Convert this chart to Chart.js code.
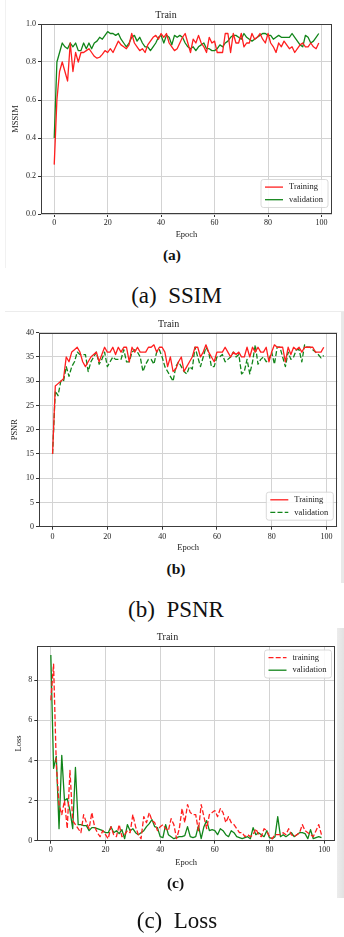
<!DOCTYPE html>
<html><head><meta charset="utf-8">
<script src="https://cdn.jsdelivr.net/npm/chart.js@4.4.1/dist/chart.umd.min.js"></script>
<style>
html,body{margin:0;padding:0;background:#fff;}
body{width:344px;height:937px;position:relative;overflow:hidden;font-family:'Liberation Serif','Times New Roman',serif;color:#111;}
canvas{position:absolute;left:0;}
.cap{position:absolute;text-align:center;white-space:nowrap;}
.sub{font-weight:bold;font-size:15.5px;line-height:15.5px;}
.big{font-size:23px;line-height:23px;}
.gap{display:inline-block;width:0.5em;}
.deco{position:absolute;}
</style></head><body>
<div class="deco" style="left:5px;top:0;width:1px;height:268px;background:#f1f1f1"></div>
<div class="deco" style="left:5px;top:311px;width:339px;height:1px;background:#ececec"></div>
<div class="deco" style="left:341px;top:312px;width:3px;height:271px;background:#e9e9e9"></div>
<div class="deco" style="left:337px;top:628px;width:7px;height:270px;background:linear-gradient(to right,#ececec,#e2e2e2)"></div>

<canvas id="c1" width="344" height="244" style="top:0px"></canvas>
<canvas id="c2" width="344" height="248" style="top:310px"></canvas>
<canvas id="c3" width="344" height="250" style="top:625px"></canvas>

<div class="cap sub" style="left:0;width:344px;top:247px">(a)</div>
<div class="cap big" style="left:0;width:353px;top:284px">(a)<span class="gap"></span>SSIM</div>
<div class="cap sub" style="left:0;width:352px;top:561px">(b)</div>
<div class="cap big" style="left:0;width:352px;top:598px">(b)<span class="gap"></span>PSNR</div>
<div class="cap sub" style="left:0;width:351px;top:875px">(c)</div>
<div class="cap big" style="left:0;width:354px;top:909px">(c)<span class="gap"></span>Loss</div>

<script>
// ---------------- data ----------------
const epochs = Array.from({length: 100}, (_, i) => i);
const xTicks = [0, 20, 40, 60, 80, 100];

const ssimTraining = [
0.26,0.60,0.75,0.80,0.75,0.70,0.90,0.75,0.85,0.80,
0.85,0.85,0.86,0.87,0.85,0.83,0.82,0.825,0.84,0.86,
0.85,0.87,0.85,0.88,0.91,0.89,0.88,0.87,0.89,0.95,
0.90,0.88,0.86,0.87,0.85,0.89,0.91,0.93,0.94,0.92,
0.95,0.93,0.95,0.90,0.88,0.86,0.87,0.90,0.93,0.95,
0.90,0.85,0.92,0.90,0.94,0.90,0.88,0.85,0.93,0.90,
0.91,0.85,0.85,0.85,0.95,0.95,0.85,0.95,0.90,0.90,
0.95,0.88,0.90,0.90,0.95,0.92,0.93,0.95,0.92,0.90,
0.95,0.90,0.88,0.85,0.90,0.88,0.91,0.89,0.87,0.88,
0.85,0.87,0.89,0.90,0.88,0.88,0.90,0.88,0.87,0.90];
const ssimValidation = [
0.40,0.80,0.85,0.90,0.88,0.87,0.90,0.88,0.90,0.86,
0.86,0.90,0.87,0.90,0.87,0.90,0.91,0.93,0.92,0.94,
0.96,0.95,0.95,0.94,0.95,0.92,0.90,0.88,0.90,0.93,
0.94,0.91,0.93,0.90,0.88,0.88,0.86,0.88,0.90,0.93,
0.94,0.90,0.94,0.93,0.89,0.94,0.93,0.94,0.93,0.90,
0.88,0.87,0.88,0.86,0.88,0.89,0.90,0.87,0.87,0.86,
0.86,0.87,0.89,0.88,0.90,0.91,0.93,0.94,0.94,0.93,
0.92,0.95,0.93,0.92,0.91,0.92,0.93,0.94,0.95,0.95,
0.94,0.94,0.92,0.93,0.94,0.93,0.93,0.93,0.93,0.95,
0.93,0.91,0.89,0.88,0.94,0.93,0.90,0.91,0.93,0.95];
const ssimTicks = [0.0, 0.2, 0.4, 0.6, 0.8, 1.0];

const psnrTraining = [
15,29,29.5,30,30.5,35,34,36,36.5,37,
36,34,33,34,35,35.5,36,34,35.5,37,
36,36,37,35.5,37,36,37,37,34,37,
36,37,36,36,36,37,37,37.5,36,37,
37,36,33,35,32,32.5,34,35,32,33,
34,35,37,37,35,36,37.5,36,35,34,
36,36,36,37,36,35,36,35.5,36,35,
35,37,35,37,36,37,36,36,37,34,
36,37.5,37,37,37,34,37,35.5,37,36.5,
37,36,37,37,37,37,36,36,36,37];
const psnrValidation = [
15,28,27,30,30,33,31,33,34,36,
35.5,35.5,35.5,32,34,35,36,33.5,34.5,36,
33,34,35,34.5,34.5,34.5,36.5,34,34,36,
36.5,36,35,32,33.5,34.5,34.5,33.5,36,36.5,
35,33,32,31,30,33,34,33,32,31.5,
33,32.5,37,35,33,35,37,36,33,33,
35,35,35.5,34,34.5,35,36,35,35.5,31.5,
32,34.5,31.5,34,37.5,33.5,34.5,35,34,34.5,
36,33.5,37,37,35,33,36,34.5,35,36.5,
36.5,34,37.5,37,37,36.5,36,35.5,34.8,35.3];
const psnrTicks = [0, 5, 10, 15, 20, 25, 30, 35, 40];

const lossTraining = [
7.0,8.8,3.8,1.8,1.3,2.0,0.6,3.5,1.0,0.8,
0.6,0.4,1.3,0.9,0.6,1.4,0.7,0.4,0.2,0.5,
0.3,0.1,0.7,0.3,0.2,0.8,0.2,0.3,0.5,0.4,
1.3,0.7,0.3,0.1,1.2,0.9,1.4,1.0,0.9,0.5,
0.7,0.8,0.6,0.5,1.1,0.8,0.1,0.6,1.6,0.9,
1.8,1.4,1.3,1.3,0.5,1.8,1.2,0.6,1.3,1.4,
1.5,1.2,1.6,1.4,0.9,1.2,0.9,0.8,0.6,0.4,
0.4,0.2,0.3,0.2,0.3,0.6,0.3,0.2,0.6,0.5,
0.2,0.1,0.3,0.3,0.3,0.4,0.3,0.6,0.3,0.2,
0.3,0.4,0.8,0.5,0.4,0.3,0.2,0.5,0.8,0.3];
const lossValidation = [
9.25,3.6,4.2,0.6,4.25,2.0,2.1,1.5,0.6,3.65,
0.8,0.8,0.75,0.75,0.5,0.65,0.65,0.6,0.55,0.5,
0.4,0.4,0.7,0.4,0.5,0.35,0.55,0.1,0.8,0.5,
0.6,0.4,0.3,0.4,0.5,0.7,0.85,1.05,0.7,0.65,
0.2,0.15,0.8,0.3,0.2,0.1,0.15,0.2,0.2,0.25,
0.7,0.2,0.15,0.2,0.75,0.1,0.7,1.0,0.5,0.55,
0.5,0.3,0.6,0.5,0.3,0.2,0.5,0.4,0.2,0.15,
0.1,0.15,0.2,0.1,0.65,0.3,0.4,0.3,0.2,0.5,
0.15,0.1,0.2,1.2,0.2,0.3,0.2,0.3,0.4,0.2,
0.3,0.4,0.4,0.35,0.1,0.55,0.1,0.15,0.2,0.15];
const lossTicks = [0, 2, 4, 6, 8];

// ---------------- style ----------------
const FONT = "'Liberation Serif', 'Times New Roman', serif";
const TEXT = '#222';
const RED = '#ff1f1f';
const GREEN = '#12851a';
const GRID = '#d3d3d3';

const frameLegend = {
  id: 'frameLegend',
  afterDatasetsDraw(chart, args, opts) {
    const ctx = chart.ctx, a = chart.chartArea;
    ctx.save();
    // spines
    ctx.strokeStyle = '#3c3c3c';
    ctx.lineWidth = 1;
    const l = Math.round(a.left) + 0.5, t = Math.round(a.top) + 0.5;
    const r = Math.round(a.right) - 0.5, b = Math.round(a.bottom) - 0.5;
    ctx.strokeRect(l, t, r - l, b - t);
    // legend
    const ds = chart.data.datasets;
    ctx.font = '8.5px ' + FONT;
    const tw = Math.max(...ds.map(d => ctx.measureText(d.label).width));
    const w = 4 + 18 + 6 + tw + 5, h = 28, rowH = 12.6;
    let x, y;
    if (opts.corner === 'ur') { x = a.right - 3.5 - w; y = a.top + 4; }
    else { x = a.right - 4 - w; y = a.bottom - 6.5 - h; }
    const rad = 2.5;
    ctx.beginPath();
    ctx.moveTo(x + rad, y);
    ctx.lineTo(x + w - rad, y); ctx.arcTo(x + w, y, x + w, y + rad, rad);
    ctx.lineTo(x + w, y + h - rad); ctx.arcTo(x + w, y + h, x + w - rad, y + h, rad);
    ctx.lineTo(x + rad, y + h); ctx.arcTo(x, y + h, x, y + h - rad, rad);
    ctx.lineTo(x, y + rad); ctx.arcTo(x, y, x + rad, y, rad);
    ctx.closePath();
    ctx.fillStyle = 'rgba(255,255,255,0.85)';
    ctx.fill();
    ctx.strokeStyle = '#d0d0d0';
    ctx.lineWidth = 0.8;
    ctx.stroke();
    ds.forEach((d, i) => {
      const cy = y + 7.6 + i * rowH;
      ctx.beginPath();
      ctx.setLineDash(d.borderDash || []);
      ctx.strokeStyle = d.borderColor;
      ctx.lineWidth = d.borderWidth;
      ctx.moveTo(x + 4, cy); ctx.lineTo(x + 22, cy);
      ctx.stroke();
      ctx.setLineDash([]);
      ctx.fillStyle = TEXT;
      ctx.textBaseline = 'middle';
      ctx.textAlign = 'left';
      ctx.fillText(d.label, x + 28, cy);
    });
    ctx.restore();
  }
};

function series(label, values, color, dashed) {
  return {
    label,
    data: values.map((v, i) => ({x: epochs[i], y: v})),
    borderColor: color,
    borderWidth: 1.3,
    borderDash: dashed ? [5, 2.2] : [],
    borderJoinStyle: 'round',
    pointRadius: 0,
    fill: false,
    tension: 0
  };
}

function makeChart(id, g, datasets, yTicks, yMin, yMax, yLabel, fmt, corner) {
  return new Chart(document.getElementById(id), {
    type: 'line',
    data: {datasets},
    plugins: [frameLegend],
    options: {
      responsive: false,
      animation: false,
      devicePixelRatio: 1,
      layout: {padding: {left: 0, right: g.right, top: 0, bottom: 0}},
      plugins: {
        legend: {display: false},
        tooltip: {enabled: false},
        title: {display: true, text: 'Train', color: TEXT,
                font: {family: FONT, size: 10, weight: 'normal'},
                padding: {top: g.titleTop, bottom: g.titleBottom}},
        frameLegend: {corner}
      },
      scales: {
        x: {
          type: 'linear', min: -4.95, max: 103.95,
          afterBuildTicks: s => { s.ticks = xTicks.map(v => ({value: v})); },
          afterFit: s => { s.height = g.xH; },
          grid: {color: GRID, lineWidth: 1, tickLength: 3, tickColor: '#333', drawTicks: true},
          border: {display: false},
          ticks: {color: TEXT, font: {family: FONT, size: 8}, padding: g.xPad, maxRotation: 0, autoSkip: false,
                  callback: v => String(v)},
          title: {display: true, text: 'Epoch', color: TEXT, font: {family: FONT, size: 8.5},
                  padding: {top: 0, bottom: g.epochPad}}
        },
        y: {
          type: 'linear', min: yMin, max: yMax,
          afterBuildTicks: s => { s.ticks = yTicks.map(v => ({value: v})); },
          afterFit: s => { s.width = g.left; },
          grid: {color: GRID, lineWidth: 1, tickLength: 3, tickColor: '#333', drawTicks: true},
          border: {display: false},
          ticks: {color: TEXT, font: {family: FONT, size: 8}, padding: 2, autoSkip: false, callback: fmt},
          title: {display: true, text: yLabel, color: TEXT, font: {family: FONT, size: 8.5},
                  padding: {top: g.yTitlePad, bottom: 0}}
        }
      }
    }
  });
}

const geo1 = {left: 41, right: 12, titleTop: 9, titleBottom: 3, xH: 30, xPad: 0.9, epochPad: 3.9, yTitlePad: 10.6};
const geo2 = {left: 39, right: 6.7, titleTop: 8, titleBottom: 2.7, xH: 31.3, xPad: 2.8, epochPad: 4.9, yTitlePad: 9.2};
const geo3 = {left: 37.3, right: 9, titleTop: 6.3, titleBottom: 2.7, xH: 34.3, xPad: 1.5, epochPad: 7.2, yTitlePad: 13.2};

makeChart('c1', geo1,
  [series('Training', ssimTraining, RED, false), series('validation', ssimValidation, GREEN, false)],
  ssimTicks, 0, 1, 'MSSIM', v => v.toFixed(1), 'lr');
makeChart('c2', geo2,
  [series('Training', psnrTraining, RED, false), series('validation', psnrValidation, GREEN, true)],
  psnrTicks, 0, 40, 'PSNR', v => String(v), 'lr');
makeChart('c3', geo3,
  [series('training', lossTraining, RED, true), series('validation', lossValidation, GREEN, false)],
  lossTicks, 0, 9.7, 'Loss', v => String(v), 'ur');
</script>
</body></html>
